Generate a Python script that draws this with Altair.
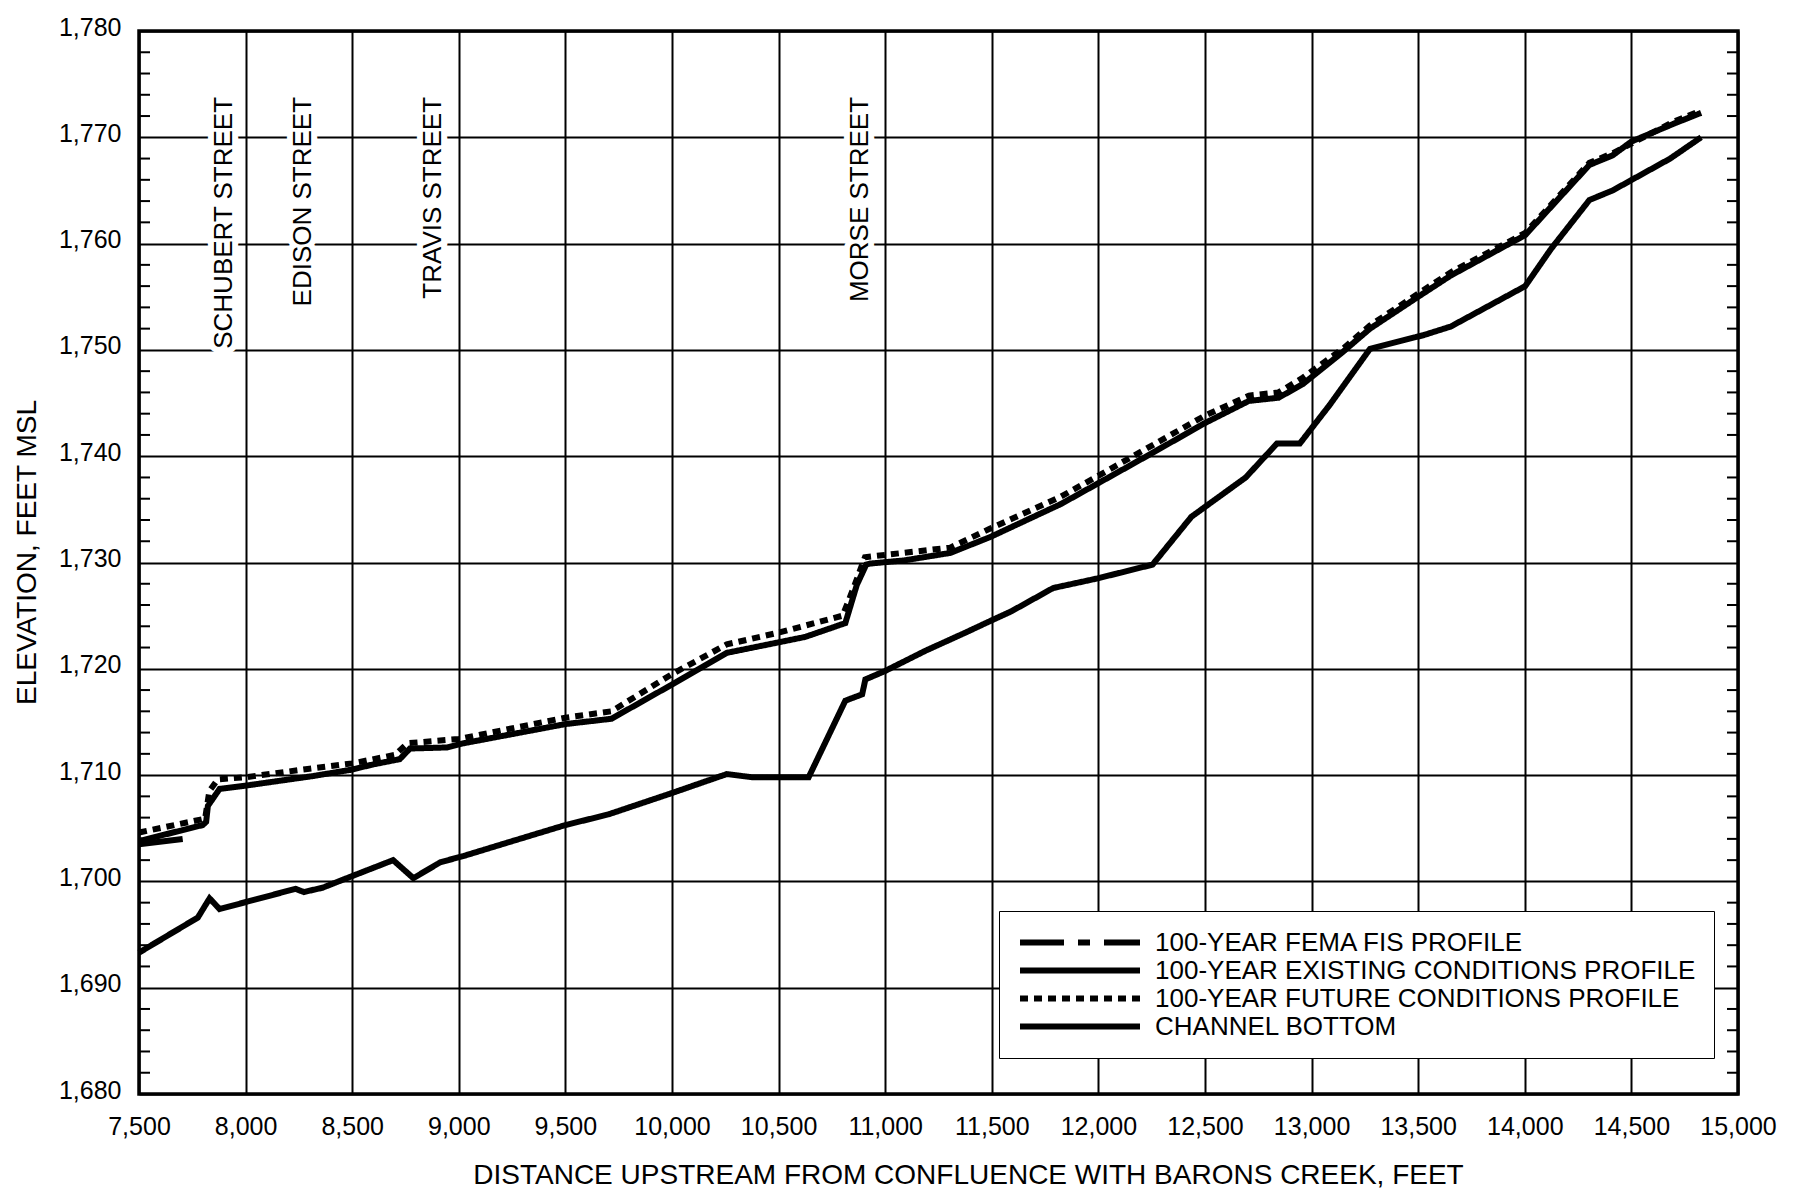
import altair as alt
import pandas as pd

FONT = "Liberation Sans"

SERIES = [
    "100-YEAR FEMA FIS PROFILE",
    "100-YEAR EXISTING CONDITIONS PROFILE",
    "100-YEAR FUTURE CONDITIONS PROFILE",
    "CHANNEL BOTTOM",
]

X_FEMA = [7500, 7750]
Y_FEMA = [1703.5, 1704.1]

X_EXIST = [7500, 7799, 7815, 7823, 7878, 7997, 8313, 8494, 8597, 8723, 8771, 8945,
           9024, 9500, 9716, 9998, 10257, 10625, 10813, 10867, 10911, 10929, 11090,
           11305, 11493, 11824, 12003, 12235, 12498, 12706, 12845, 12960, 13146,
           13274, 13500, 13653, 14002, 14303, 14412, 14500, 14701, 14827]
Y_EXIST = [1703.8, 1705.3, 1705.6, 1707.1, 1708.7, 1709.0, 1709.9, 1710.5, 1711.0,
           1711.5, 1712.5, 1712.6, 1713.0, 1714.8, 1715.3, 1718.5, 1721.5, 1723.0,
           1724.3, 1727.9, 1729.8, 1729.9, 1730.2, 1730.9, 1732.4, 1735.5, 1737.5,
           1740.1, 1743.1, 1745.2, 1745.5, 1746.8, 1749.8, 1752.0, 1755.0, 1757.0,
           1760.8, 1767.4, 1768.3, 1769.6, 1771.3, 1772.3]

X_FUTURE = [7500, 7810, 7830, 7870, 8000, 8300, 8500, 8700, 8760, 9000, 9500, 9716,
            10000, 10257, 10500, 10800, 10830, 10870, 10905, 11305, 11493, 11824,
            12003, 12498, 12706, 12845, 12960, 13146, 13274, 13500, 13653, 14002,
            14303, 14412, 14701, 14827]
Y_FUTURE = [1704.6, 1705.9, 1708.5, 1709.6, 1709.8, 1710.6, 1711.1, 1711.9, 1713.0,
            1713.4, 1715.4, 1716.0, 1719.5, 1722.3, 1723.4, 1725.0, 1726.5, 1728.6,
            1730.5, 1731.4, 1733.2, 1736.2, 1738.2, 1743.8, 1745.7, 1746.0, 1747.4,
            1750.1, 1752.3, 1755.3, 1757.3, 1761.0, 1767.6, 1768.5, 1771.5, 1772.5]

X_CHANNEL = [7500, 7776, 7831, 7878, 8234, 8273, 8360, 8487, 8692, 8787, 8913, 9024,
             9220, 9500, 9701, 9998, 10257, 10375, 10641, 10813, 10892, 10907, 11000,
             11189, 11376, 11493, 11591, 11788, 11995, 12254, 12436, 12691, 12838,
             12945, 13084, 13274, 13527, 13653, 14002, 14123, 14303, 14412, 14682,
             14827]
Y_CHANNEL = [1693.3, 1696.6, 1698.4, 1697.4, 1699.3, 1699.0, 1699.4, 1700.4, 1702.0,
             1700.3, 1701.8, 1702.4, 1703.6, 1705.3, 1706.3, 1708.3, 1710.1, 1709.8,
             1709.8, 1717.0, 1717.6, 1719.0, 1719.8, 1721.7, 1723.4, 1724.5, 1725.4,
             1727.6, 1728.5, 1729.8, 1734.3, 1738.0, 1741.2, 1741.2, 1744.8, 1750.1,
             1751.4, 1752.2, 1756.0, 1759.5, 1764.1, 1765.0, 1768.0, 1770.0]

STREETS = ["SCHUBERT STREET", "EDISON STREET", "TRAVIS STREET", "MORSE STREET"]
STREET_X = [7897, 8269, 8877, 10880]
STREET_TOP = [1773.8, 1773.8, 1773.8, 1773.8]

X_TICKS = [7500, 8000, 8500, 9000, 9500, 10000, 10500, 11000, 11500, 12000, 12500,
           13000, 13500, 14000, 14500, 15000]
Y_TICKS = [1680, 1690, 1700, 1710, 1720, 1730, 1740, 1750, 1760, 1770, 1780]
MINOR_Y = [v for v in range(1682, 1780, 2) if v % 10 != 0]

DASHES = [[44, 14, 12, 14], [1, 0], [8, 6], [1, 0]]

rows = []
for name, xs, ys in zip(SERIES, [X_FEMA, X_EXIST, X_FUTURE, X_CHANNEL],
                        [Y_FEMA, Y_EXIST, Y_FUTURE, Y_CHANNEL]):
    for i, (xv, yv) in enumerate(zip(xs, ys)):
        rows.append({"series": name, "dist": xv, "elev": yv, "order": i})
df = pd.DataFrame(rows)

W, H = 1599, 1063
xscale = alt.Scale(domain=[7500, 15000], nice=False, zero=False)
yscale = alt.Scale(domain=[1680, 1780], nice=False, zero=False)

XAXIS = alt.Axis(values=X_TICKS, format=",d",
                 title="DISTANCE UPSTREAM FROM CONFLUENCE WITH BARONS CREEK, FEET",
                 labelPadding=20, titlePadding=22, titleX=829,
                 labelFlush=False, labelOverlap=False)
YAXIS = alt.Axis(values=Y_TICKS, format=",d", title="ELEVATION, FEET MSL",
                 labelPadding=18, labelOffset=-4, titlePadding=17,
                 titleY=521, labelFlush=False, labelOverlap=False)

lines = alt.Chart(df).mark_line(strokeWidth=6, color="black").encode(
    x=alt.X("dist:Q", scale=xscale, axis=XAXIS),
    y=alt.Y("elev:Q", scale=yscale, axis=YAXIS),
    strokeDash=alt.StrokeDash(
        "series:N",
        scale=alt.Scale(domain=SERIES, range=DASHES),
        legend=alt.Legend(title=None, orient="none", legendX=860, legendY=880,
                          padding=18, strokeColor="black", fillColor="white",
                          labelFont=FONT, labelFontSize=26, labelLimit=1000,
                          labelColor="black", labelOffset=12, rowPadding=1,
                          clipHeight=27,
                          symbolType="stroke", symbolSize=14400,
                          symbolStrokeWidth=6, symbolStrokeColor="black"),
    ),
    order="order:Q",
)

minor = pd.DataFrame({"v": MINOR_Y})
left_ticks = alt.Chart(minor).mark_rule(color="black", strokeWidth=2).encode(
    y=alt.Y("v:Q", scale=yscale, axis=YAXIS),
    x=alt.value(0), x2=alt.value(11),
)
right_ticks = alt.Chart(minor).mark_rule(color="black", strokeWidth=2).encode(
    y=alt.Y("v:Q", scale=yscale, axis=YAXIS),
    x=alt.value(W - 11), x2=alt.value(W),
)

streets = pd.DataFrame({"name": STREETS, "x": STREET_X, "y": STREET_TOP})
halo = alt.Chart(streets).mark_text(
    angle=270, align="right", baseline="middle", font=FONT, fontSize=26,
    fill="white", stroke="white", strokeWidth=12,
).encode(
    x=alt.X("x:Q", scale=xscale, axis=XAXIS),
    y=alt.Y("y:Q", scale=yscale, axis=YAXIS),
    text="name:N",
)
labels = alt.Chart(streets).mark_text(
    angle=270, align="right", baseline="middle", font=FONT, fontSize=26,
    color="black",
).encode(
    x=alt.X("x:Q", scale=xscale, axis=XAXIS),
    y=alt.Y("y:Q", scale=yscale, axis=YAXIS),
    text="name:N",
)

chart = alt.layer(lines, left_ticks, right_ticks, halo, labels).properties(
    width=W, height=H,
    padding={"left": 13, "top": 15, "right": 5, "bottom": 2},
    background="white",
).configure_view(
    stroke="black", strokeWidth=3.5,
).configure_axis(
    grid=True, gridColor="black", gridWidth=2, gridOpacity=1,
    ticks=False, domain=False,
    labelFont=FONT, labelFontSize=25, labelColor="black",
    titleFont=FONT, titleFontSize=28, titleFontWeight="normal", titleColor="black",
)

chart.save("out.html", embed_options={"renderer": "svg", "actions": False})
